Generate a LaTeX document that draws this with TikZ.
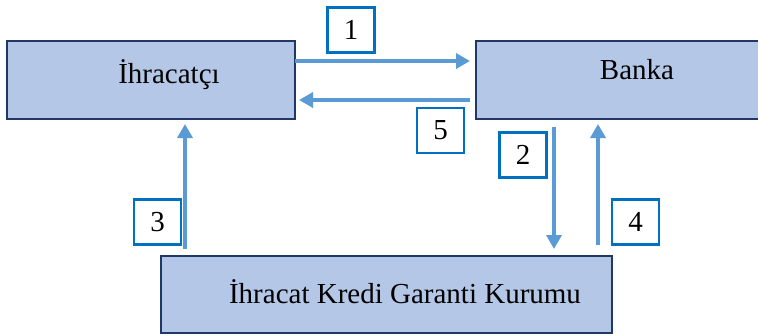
\documentclass[tikz,border=0pt]{standalone}
\usepackage{fontspec}
\setmainfont{Liberation Serif}
\usetikzlibrary{arrows.meta,positioning,calc}
\definecolor{kutumavi}{HTML}{B4C7E7}
\definecolor{kenarlaci}{HTML}{1F3864}
\definecolor{okmavi}{HTML}{5B9BD5}
\definecolor{numara}{HTML}{0070C0}
\tikzset{
  blok/.style={draw=kenarlaci, fill=kutumavi, line width=2.8pt, inner sep=0pt, outer sep=0pt},
  yazi/.style={font=\fontsize{29}{34}\selectfont, anchor=base, inner sep=0pt},
  numkutu/.style={draw=numara, fill=white, line width=2.4pt, minimum width=47pt, minimum height=45pt,
    inner sep=0pt, outer sep=0pt, font=\fontsize{29}{34}\selectfont},
  ok/.style={okmavi, line width=3.6pt, -{Triangle[length=14pt,width=15pt]}}
}
\begin{document}
\begin{tikzpicture}[x=1pt,y=-1pt]
\useasboundingbox (0,0) rectangle (758,335);
% Boxes
\node[blok, minimum width=288pt, minimum height=78pt] (ihr) at (151,80) {};
\node[blok, minimum width=294pt, minimum height=78pt] (banka) at (623,80) {};
\node[blok, minimum width=451pt, minimum height=77pt] (kurum) at (386.5,294.5) {};
\node[yazi] (ihrt) at (169,83) {İhracatçı};
\node[yazi] (bankat) at (637,79) {Banka};
\node[yazi] (kurumt) at (405,303) {İhracat Kredi Garanti Kurumu};
% Flows between exporter and bank
\draw[ok, shorten >=6pt] ([yshift=19pt]ihr.east) -- ([yshift=19pt]banka.west);
\draw[ok, shorten <=6pt, shorten >=4pt] ([yshift=-20pt]banka.west) -- ([yshift=-20pt]ihr.east);
% Flows to and from the guarantee agency
\draw[ok, shorten <=8pt, shorten >=7pt] ([xshift=-69pt]banka.south) -- ([xshift=167.5pt]kurum.north);
\draw[ok, shorten <=11pt, shorten >=5pt] ([xshift=211.5pt]kurum.north) -- ([xshift=-25pt]banka.south);
\draw[ok, shorten <=7pt, shorten >=5pt] ([xshift=-201.5pt]kurum.north) -- ([xshift=34pt]ihr.south);
% Step numbers
\foreach \n/\x/\y in {1/351/30, 2/523/155, 3/157.5/222, 4/635.5/222, 5/440.5/130.5} {
  \node[numkutu] (n\n) at (\x,\y) {\n};
}
\end{tikzpicture}
\end{document}
